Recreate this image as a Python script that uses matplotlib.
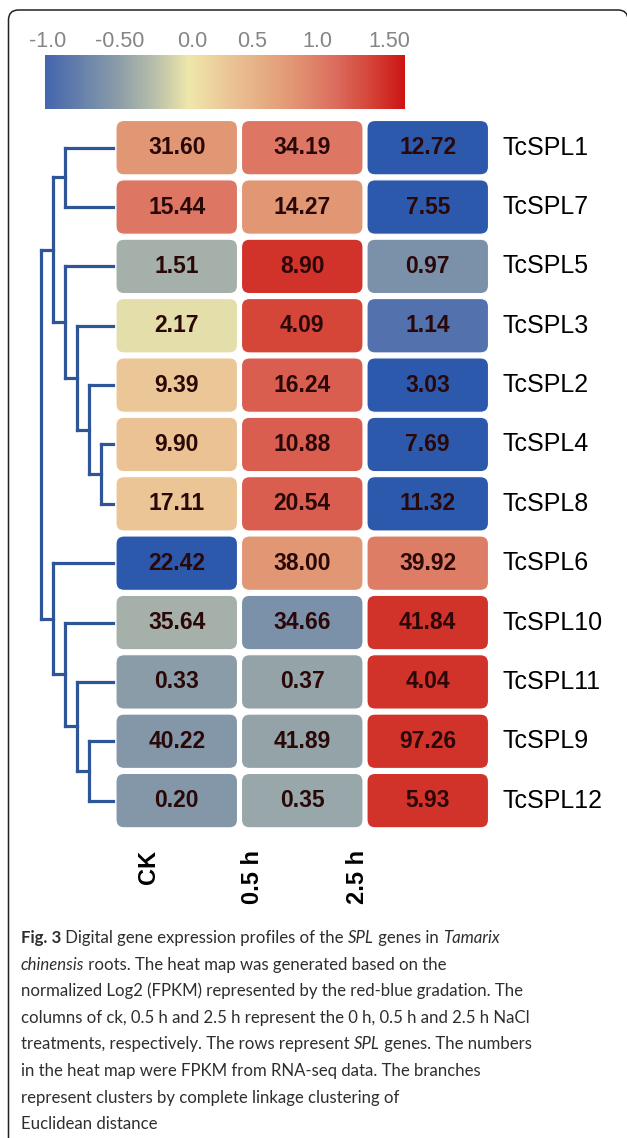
import numpy as np
import matplotlib
matplotlib.use("Agg")
import matplotlib.pyplot as plt
from matplotlib.colors import LinearSegmentedColormap, Normalize
from matplotlib.patches import FancyBboxPatch
from matplotlib.cm import ScalarMappable

# ---------------------------------------------------------------------------
# Data (rows in dendrogram order)
# ---------------------------------------------------------------------------

genes = ["TcSPL1", "TcSPL7", "TcSPL5", "TcSPL3", "TcSPL2", "TcSPL4",
         "TcSPL8", "TcSPL6", "TcSPL10", "TcSPL11", "TcSPL9", "TcSPL12"]
conditions = ["CK", "0.5 h", "2.5 h"]

# FPKM values printed in the cells
fpkm_ck = [31.60, 15.44, 1.51, 2.17, 9.39, 9.90, 17.11, 22.42, 35.64, 0.33, 40.22, 0.20]
fpkm_05 = [34.19, 14.27, 8.90, 4.09, 16.24, 10.88, 20.54, 38.00, 34.66, 0.37, 41.89, 0.35]
fpkm_25 = [12.72, 7.55, 0.97, 1.14, 3.03, 7.69, 11.32, 39.92, 41.84, 4.04, 97.26, 5.93]

# normalized log2 values
z_ck = [0.70, 0.95, -0.35, -0.05, 0.25, 0.30, 0.27, -1.20, -0.35, -0.50, -0.55, -0.55]
z_05 = [0.95, 0.70, 1.35, 1.25, 1.10, 1.10, 1.10, 0.70, -0.60, -0.45, -0.45, -0.42]
z_25 = [-1.20, -1.20, -0.60, -0.90, -1.05, -1.05, -1.05, 0.90, 1.35, 1.35, 1.35, 1.35]

# dendrogram merges: (left node, right node, height); leaves are 0..11
merges = [
    (5, 6, 1), (10, 11, 2), (4, 12, 2), (9, 13, 3), (3, 14, 3), (0, 1, 4),
    (2, 16, 4), (8, 15, 4), (17, 18, 5), (7, 19, 5), (20, 21, 6),
]

cbar_ticks = [-0.98, -0.48, 0.02, 0.44, 0.89, 1.39]
cbar_labels = ["-1.0", "-0.50", "0.0", "0.5", "1.0", "1.50"]

caption = [
    [("Fig. 3", "b"), (" Digital gene expression profiles of the ", "r"), ("SPL", "i"),
     (" genes in ", "r"), ("Tamarix", "i")],
    [("chinensis", "i"), (" roots. The heat map was generated based on the", "r")],
    [("normalized Log2 (FPKM) represented by the red-blue gradation. The", "r")],
    [("columns of ck, 0.5 h and 2.5 h represent the 0 h, 0.5 h and 2.5 h NaCl", "r")],
    [("treatments, respectively. The rows represent ", "r"), ("SPL", "i"),
     (" genes. The numbers", "r")],
    [("in the heat map were FPKM from RNA-seq data. The branches", "r")],
    [("represent clusters by complete linkage clustering of", "r")],
    [("Euclidean distance", "r")],
]

# ---------------------------------------------------------------------------
# Layout helpers (figure pixels, origin top-left)
# ---------------------------------------------------------------------------

W, H = 627, 1138
fig = plt.figure(figsize=(W / 100, H / 100), dpi=100)


def px_box(x0, y0, x1, y1):
    return [x0 / W, 1 - y1 / H, (x1 - x0) / W, (y1 - y0) / H]


vmin, vmax = -1.0, 1.5
stops = [(-1.0, "#4466ae"), (-0.5, "#8a9ca8"), (-0.25, "#b6beaa"), (0.0, "#efe7aa"),
         (0.25, "#ebc898"), (0.5, "#e6ae84"), (0.75, "#e19270"), (1.0, "#dc7060"),
         (1.25, "#d5473a"), (1.5, "#cc1414")]
cmap = LinearSegmentedColormap.from_list(
    "rb", [((v - vmin) / (vmax - vmin), c) for v, c in stops])
cmap.set_under("#2d59ad")
norm = Normalize(vmin, vmax)

# overlay axes in pixel coords: frame, column labels, caption
ov = fig.add_axes([0, 0, 1, 1])
ov.set_xlim(0, W)
ov.set_ylim(H, 0)
ov.axis("off")
ov.add_patch(FancyBboxPatch((8.5, 10), 619.5, 1160, boxstyle="round,pad=0,rounding_size=10",
                            fc="none", ec="#222222", lw=1.1, clip_on=False))

# ---------------------------------------------------------------------------
# Heat map
# ---------------------------------------------------------------------------

hm_left, hm_top, hm_right, hm_bottom = 114, 118, 490.5, 830.3
hm = fig.add_axes(px_box(hm_left, hm_top, hm_right, hm_bottom))
hm.set_xlim(0, 3)
hm.set_ylim(12, 0)
hm.axis("off")

col_px = (hm_right - hm_left) / 3
row_px = (hm_bottom - hm_top) / 12
gx, gy = 2.0 / col_px, 2.5 / row_px
aspect = col_px / row_px

values = np.array([z_ck, z_05, z_25]).T
labels = np.array([fpkm_ck, fpkm_05, fpkm_25]).T
for i in range(len(genes)):
    for j in range(len(conditions)):
        hm.add_patch(FancyBboxPatch(
            (j + gx, i + gy), 1 - 2 * gx, 1 - 2 * gy,
            boxstyle=f"round,pad=0,rounding_size={8 / col_px}",
            mutation_aspect=aspect,
            fc=cmap(norm(values[i, j])), ec="white", lw=0.8))
        hm.text(j + 0.5, i + 0.5, f"{labels[i, j]:.2f}", ha="center", va="center",
                fontsize=16.5, fontweight="bold", color="#2a0808",
                family="Liberation Sans")
    hm.text(3 + 12 / col_px, i + 0.5, genes[i], ha="left", va="center",
            fontsize=18, color="black", family="Liberation Sans")

# column labels (rotated)
for j, name in enumerate(conditions):
    ov.text(148 + 104.5 * j, 850, name, rotation=90, ha="center", va="top",
            fontsize=17, fontweight="bold", family="Liberation Sans")

# ---------------------------------------------------------------------------
# Dendrogram
# ---------------------------------------------------------------------------

dg = fig.add_axes(px_box(29, hm_top, 113, hm_bottom))
dg.set_xlim(7, 0)
dg.set_ylim(12, 0)
dg.axis("off")

pos = {i: (0.0, i + 0.5) for i in range(len(genes))}
line_kw = dict(color="#2d5597", lw=2.3, solid_capstyle="projecting", clip_on=False)
for k, (a, b, h) in enumerate(merges):
    ha_, ya = pos[a]
    hb, yb = pos[b]
    dg.plot([ha_, h], [ya, ya], **line_kw)
    dg.plot([hb, h], [yb, yb], **line_kw)
    dg.plot([h, h], [ya, yb], **line_kw)
    pos[len(genes) + k] = (h, (ya + yb) / 2)

# ---------------------------------------------------------------------------
# Colour bar
# ---------------------------------------------------------------------------

cax = fig.add_axes(px_box(45, 55, 405, 109))
cb = fig.colorbar(ScalarMappable(norm=norm, cmap=cmap), cax=cax, orientation="horizontal")
cb.outline.set_visible(False)
cax.xaxis.set_ticks_position("top")
cax.set_xticks(cbar_ticks)
cax.set_xticklabels(cbar_labels)
cax.tick_params(length=0, pad=2, labelsize=15.5, labelcolor="#858585")
for t in cax.get_xticklabels():
    t.set_family("Liberation Sans")

# ---------------------------------------------------------------------------
# Caption
# ---------------------------------------------------------------------------

renderer = fig.canvas.get_renderer()
styles = {"r": dict(), "b": dict(fontweight="bold"), "i": dict(style="italic")}
cap_kw = dict(fontsize=12.1, family="Lato", color="#2e2e2e", va="baseline", ha="left")


def text_width(s, st):
    t = ov.text(0, 0, s + "|", **cap_kw, **styles[st])
    r = ov.text(0, 0, "|", **cap_kw, **styles[st])
    w = t.get_window_extent(renderer).width - r.get_window_extent(renderer).width
    t.remove()
    r.remove()
    return w


for n, line in enumerate(caption):
    x = 21
    y = 943 + 26.6 * n
    for seg, st in line:
        ov.text(x, y, seg, **cap_kw, **styles[st])
        x += text_width(seg, st)

fig.savefig("out.png", dpi=100)
